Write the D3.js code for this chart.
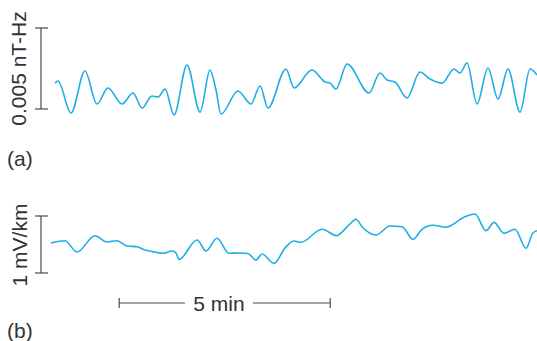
<!DOCTYPE html>
<html><head><meta charset="utf-8">
<script src="https://cdn.jsdelivr.net/npm/d3@7"></script>
<style>html,body{margin:0;padding:0;background:#fff;}svg{display:block;}</style>
</head><body>
<svg id="chart" width="537" height="341"></svg>
<script>
// Trace (a): magnetic field, time in seconds, values in 10^-3 nT-Hz
const aTime = [5.7,10,28.4,48.3,65.4,81,101,116.6,129.4,143.6,152.1,162.1,174.9,193.4,211.9,226.1,234.6,241.7,265.9,284.4,297.2,308.5,334.1,345.5,371.1,389.6,396.7,405.2,420.9,452.1,467.8,477.7,489.1,506.2,524.6,538.9,555.9,573,581.5,591.5,605.7,621.3,635.6,649.8,666.8,681.1,691];
const aValues = [1.60,1.73,-0.25,2.35,0.31,1.30,0.31,0.99,0.06,0.80,0.74,1.23,-0.37,2.72,-0.19,2.41,1.17,-0.31,1.11,0.31,1.42,0.06,2.47,1.30,2.41,1.67,1.60,1.23,2.78,0.99,2.22,1.79,1.67,0.68,2.28,1.85,1.60,2.47,2.22,2.84,0.31,2.53,0.62,2.47,-0.19,2.47,2.10];
// Trace (b): electric field, time in seconds, values in mV/km
const bTime = [0,19.9,37,62.6,79.6,93.8,108.1,122.3,133.6,140.8,147.9,159.2,172,177.7,182,207.6,220.4,236,253.1,268.8,280.1,291.5,300,317.1,332.7,345.5,355.5,385.3,406.6,413.7,425.1,433.7,442.2,462.1,482,499.1,514.7,527.5,543.1,561.6,588.6,602.8,618.5,629.9,644.1,659.7,675.4,685.4,691];
const bValues = [0.526,0.567,0.368,0.654,0.544,0.567,0.474,0.461,0.404,0.386,0.368,0.346,0.386,0.351,0.237,0.579,0.386,0.609,0.346,0.351,0.342,0.228,0.333,0.170,0.439,0.561,0.539,0.767,0.654,0.719,0.860,0.942,0.812,0.667,0.825,0.812,0.591,0.767,0.837,0.802,0.988,1.035,0.742,0.889,0.696,0.767,0.433,0.707,0.742];
// Scale bars
const aBar = [0, 5];          // 0.005 nT-Hz
const bBar = [0, 1];          // 1 mV/km
const timeBar = [97, 397];    // 5 min
const aLabel = "0.005 nT-Hz";
const bLabel = "1 mV/km";
const timeLabel = "5 min";
const panelLabels = ["(a)", "(b)"];

const svg = d3.select("#chart");
const traceColor = "#1fade6";
const barColor = "#4a4a4a";
const textColor = "#333";
const font = "'Liberation Sans', Arial, sans-serif";

const x = d3.scaleLinear().domain([0, 691]).range([51, 537]);
const ya = d3.scaleLinear().domain([0, 5]).range([109, 28]);
const yb = d3.scaleLinear().domain([0, 1]).range([273, 216]);

function trace(times, vals, y) {
  const line = d3.line().x(d => x(d[0])).y(d => y(d[1])).curve(d3.curveMonotoneX);
  svg.append("path").datum(times.map((t, i) => [t, vals[i]]))
    .attr("d", line).attr("fill", "none").attr("stroke", traceColor)
    .attr("stroke-width", 1.6).attr("stroke-linejoin", "round");
}
trace(aTime, aValues, ya);
trace(bTime, bValues, yb);

function vbar(y, dom) {
  const g = svg.append("g").attr("stroke", barColor).attr("stroke-width", 1.2);
  g.append("line").attr("x1", 41).attr("x2", 41).attr("y1", y(dom[0])).attr("y2", y(dom[1]));
  dom.forEach(v => g.append("line").attr("x1", 35).attr("x2", 48).attr("y1", y(v)).attr("y2", y(v)));
}
vbar(ya, aBar);
vbar(yb, bBar);

function vlabel(txt, cx, cy) {
  svg.append("text").attr("transform", `translate(${cx},${cy}) rotate(-90)`)
    .attr("text-anchor", "middle").attr("font-family", font).attr("font-size", 21)
    .attr("fill", textColor).text(txt);
}
vlabel(aLabel, 26, (ya(aBar[0]) + ya(aBar[1])) / 2);
vlabel(bLabel, 27, (yb(bBar[0]) + yb(bBar[1])) / 2 + 0.5);

// time bar
const tg = svg.append("g").attr("stroke", barColor).attr("stroke-width", 1.2);
const tx0 = x(timeBar[0]), tx1 = x(timeBar[1]), ty = 303;
tg.append("line").attr("x1", tx0).attr("x2", 185).attr("y1", ty).attr("y2", ty);
tg.append("line").attr("x1", 253).attr("x2", tx1).attr("y1", ty).attr("y2", ty);
tg.append("line").attr("x1", tx0).attr("x2", tx0).attr("y1", ty - 5).attr("y2", ty + 5);
tg.append("line").attr("x1", tx1).attr("x2", tx1).attr("y1", ty - 5).attr("y2", ty + 5);
svg.append("text").attr("x", 219).attr("y", ty + 7.5).attr("text-anchor", "middle")
  .attr("font-family", font).attr("font-size", 21).attr("fill", textColor).text(timeLabel);

svg.append("text").attr("x", 7).attr("y", 166).attr("font-family", font).attr("font-size", 21)
  .attr("fill", textColor).text(panelLabels[0]);
svg.append("text").attr("x", 7).attr("y", 338).attr("font-family", font).attr("font-size", 21)
  .attr("fill", textColor).text(panelLabels[1]);
</script>
</body></html>
